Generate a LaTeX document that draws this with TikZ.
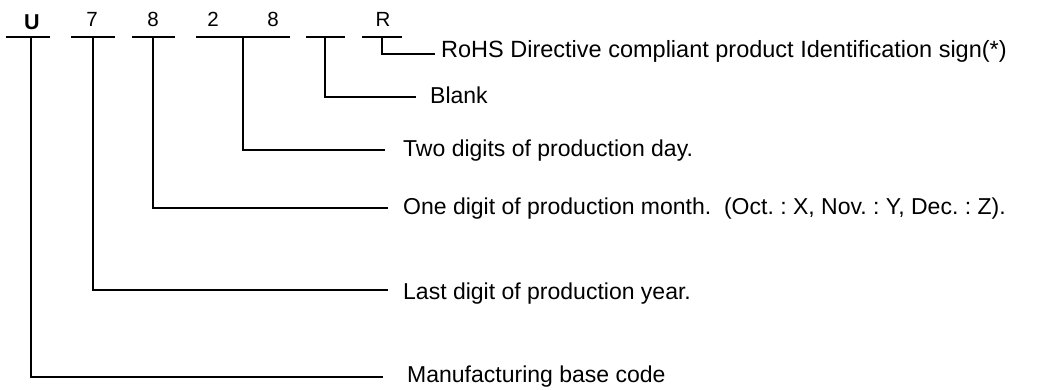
\documentclass[tikz,border=0pt]{standalone}
\usepackage{fontspec}
\setmainfont{Liberation Sans}
\frenchspacing
\tikzset{
  bar/.style={draw=black, line width=1.5pt},
  lead/.style={draw=black, line width=1.5pt},
  code/.style={font=\fontsize{20.5}{22}\selectfont, anchor=base, inner sep=0pt},
  lab/.style={font=\fontsize{23}{25}\selectfont, anchor=base west, inner sep=0pt},
}

\begin{document}
\begin{tikzpicture}[x=1pt,y=-1pt]
  \useasboundingbox (0,0) rectangle (1041,389);
  \node[code,font=\bfseries\fontsize{21.5}{23}\selectfont] (cU) at (32,29) {U};
  \node[code] (cY) at (92,26) {7};
  \node[code] (cM) at (153,26) {8};
  \node[code] (cDa) at (213,26) {2};
  \node[code] (cDb) at (273,26) {8};
  \node[code] (cR) at (383,26) {R};
  \foreach \a/\b in {6/50,71/115,132/175,196/290,306/345,362/402}
    \draw[bar] (\a,37)--(\b,37);
  \coordinate (tU) at (31,37);
  \coordinate (tY) at (93,37);
  \coordinate (tM) at (153,37);
  \coordinate (tD) at (243,37);
  \coordinate (tB) at (325,37);
  \coordinate (tR) at (382,37);
  \coordinate (eU) at (383,377);
  \coordinate (eY) at (388,290);
  \coordinate (eM) at (388,208);
  \coordinate (eD) at (385,150);
  \coordinate (eB) at (416,97);
  \coordinate (eR) at (435,54);
  \draw[lead] (tU) |- (eU);
  \draw[lead] (tY) |- (eY);
  \draw[lead] (tM) |- (eM);
  \draw[lead] (tD) |- (eD);
  \draw[lead] (tB) |- (eB);
  \draw[lead] (tR) |- (eR);
  \node[lab,font=\fontsize{23.5}{25}\selectfont] (lR) at (441,57) {RoHS Directive compliant product Identification sign(*)};
  \node[lab] (lB) at (430,103) {Blank};
  \node[lab] (lD) at (403,156) {Two digits of production day.};
  \node[lab] (lM) at (403,214) {One digit of production month.\ \ (Oct. : X, Nov. : Y, Dec. : Z).};
  \node[lab] (lY) at (403,299) {Last digit of production year.};
  \node[lab] (lU) at (407,382) {Manufacturing base code};
\end{tikzpicture}
\end{document}
